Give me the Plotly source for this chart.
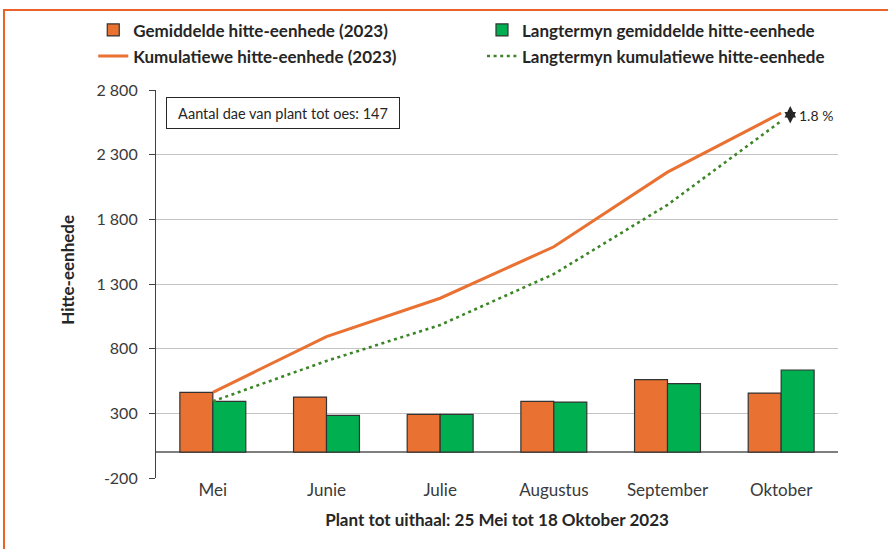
import plotly.graph_objects as go

# Months on the x axis
months = ["Mei", "Junie", "Julie", "Augustus", "September", "Oktober"]

# Monthly heat units (bars)
heat_2023 = [462, 426, 292, 393, 560, 457]
heat_longterm = [393, 284, 292, 387, 529, 635]

# Cumulative heat units (lines)
cum_2023 = [462, 893, 1190, 1588, 2165, 2622]
cum_longterm = [393, 705, 983, 1377, 1912, 2560]

# Y axis ticks
y_ticks = [-200, 300, 800, 1300, 1800, 2300, 2800]
y_tick_text = ["-200", "300", "800", "1 300", "1 800", "2 300", "2 800"]

ORANGE = "#E97132"
GREEN = "#00B050"
DOT_GREEN = "#3C8527"
FONT = "Lato"

fig = go.Figure()

# left legend column: 2023 values, right column: long-term values
fig.add_trace(go.Bar(
    x=months, y=heat_2023,
    name="Gemiddelde hitte-eenhede (2023)",
    marker=dict(color=ORANGE, line=dict(color="#333333", width=1.2)),
    legend="legend", legendgroup="a",
))
fig.add_trace(go.Bar(
    x=months, y=heat_longterm,
    name="Langtermyn gemiddelde hitte-eenhede",
    marker=dict(color=GREEN, line=dict(color="#333333", width=1.2)),
    legend="legend2", legendgroup="c",
))
fig.add_trace(go.Scatter(
    x=months, y=cum_2023, mode="lines",
    name="Kumulatiewe hitte-eenhede (2023)",
    line=dict(color=ORANGE, width=3),
    legend="legend", legendgroup="b",
))
fig.add_trace(go.Scatter(
    x=months, y=cum_longterm, mode="lines",
    name="Langtermyn kumulatiewe hitte-eenhede",
    line=dict(color=DOT_GREEN, width=2.6, dash="3px,3.6px"),
    legend="legend2", legendgroup="d",
))

legend_style = dict(
    orientation="v",
    xanchor="left",
    y=1.2, yanchor="top",
    font=dict(family=FONT, size=17, color="#262626", weight="bold"),
    bgcolor="rgba(0,0,0,0)",
    traceorder="grouped",
    tracegroupgap=1,
)

fig.update_layout(
    width=888, height=549,
    margin=dict(l=156, r=50, t=90, b=71),
    paper_bgcolor="white",
    plot_bgcolor="white",
    font=dict(family=FONT, size=17, color="#3a3a3a"),
    barmode="group",
    bargap=0.42,
    bargroupgap=0,
    showlegend=True,
    legend=dict(x=-0.092, **legend_style),
    legend2=dict(x=0.478, **legend_style),
    xaxis=dict(
        showgrid=False,
        showline=False,
        ticks="",
        tickfont=dict(size=17, color="#3a3a3a"),
        title=dict(text="<b>Plant tot uithaal: 25 Mei tot 18 Oktober 2023</b>",
                   font=dict(size=17, color="#262626"), standoff=15),
    ),
    yaxis=dict(
        range=[-200, 2800],
        tickvals=y_ticks,
        ticktext=y_tick_text,
        showgrid=True,
        gridcolor="#c4c4c4",
        gridwidth=1.3,
        zeroline=True,
        zerolinecolor="#7f7f7f",
        zerolinewidth=1.6,
        showline=True,
        linecolor="#404040",
        linewidth=1.2,
        ticks="outside",
        ticklen=6,
        tickcolor="#404040",
        ticklabelstandoff=8,
        tickfont=dict(size=16, color="#3a3a3a"),
    ),
)

# Y axis title (sits a little above the plot centre in the original)
fig.add_annotation(
    xref="paper", yref="paper",
    x=-0.131, y=0.536,
    xanchor="center", yanchor="middle",
    text="<b>Hitte-eenhede</b>",
    textangle=-90,
    showarrow=False,
    font=dict(size=17, color="#262626"),
)

# Info box
fig.add_annotation(
    xref="paper", yref="paper",
    x=0.186, y=0.942,
    xanchor="center", yanchor="middle",
    text="Aantal dae van plant tot oes: 147",
    showarrow=False,
    font=dict(size=14.5, color="#262626"),
    bordercolor="#262626", borderwidth=1, borderpad=4,
    bgcolor="white",
    width=224, height=22,
)

# Difference marker at the end of the cumulative lines
fig.add_annotation(
    xref="paper", yref="paper",
    x=0.93, y=0.9588,
    ax=0, ay=19,
    text="",
    showarrow=True,
    arrowside="end+start",
    arrowhead=2, arrowsize=1.35, arrowwidth=1.7,
    startarrowhead=2, startarrowsize=1.35,
    arrowcolor="#262626",
)
fig.add_annotation(
    xref="paper", yref="paper",
    x=0.94, y=0.934,
    xanchor="left", yanchor="middle",
    text="1.8 %",
    showarrow=False,
    font=dict(size=14, color="#262626"),
)

# Orange frame around the chart
fig.add_shape(
    type="rect", xref="paper", yref="paper",
    x0=-0.2229, y0=-0.4, x1=1.3, y1=1.206,
    line=dict(color="#E8622A", width=2),
    layer="below",
)

# the page has a default body margin; remove it so the chart sits at (0, 0)
fig.write_html("out.html", config={"displayModeBar": False},
               post_script="document.body.style.margin='0';")
